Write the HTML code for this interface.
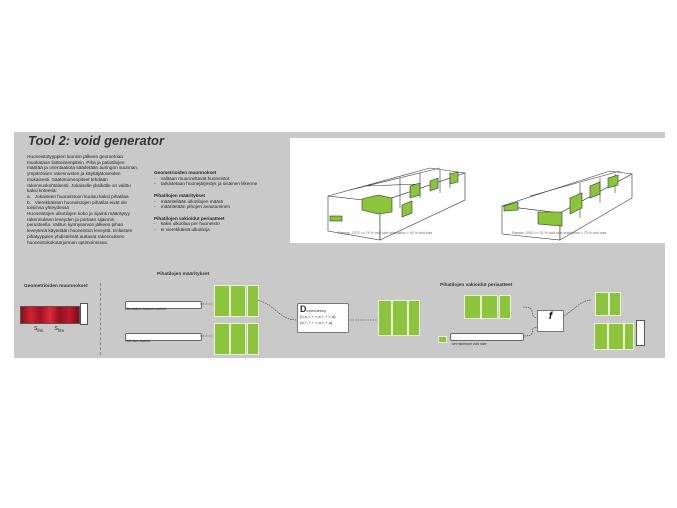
<!DOCTYPE html><html><head><meta charset="utf-8"><style>
body{margin:0;width:677px;height:508px;background:#fff;position:relative;overflow:hidden;font-family:"Liberation Sans",sans-serif}
.a{position:absolute}
.t{font-size:4.7px;line-height:5.7px;color:#222}
.g{background:#8cc43c;border:1px solid #e8f2d8}
.h{font-size:4.8px;font-weight:bold;color:#333}
.sl{background:#fff;border:1px solid #666;height:6px;border-radius:2px}
</style></head><body>
<div class="a" style="left:14px;top:132px;width:651px;height:226px;background:#c9c9c9"></div>
<div class="a" style="left:28px;top:133px;font-size:13px;font-weight:bold;font-style:italic;color:#333">Tool 2: void generator</div>
<div class="a t" style="left:27px;top:154px;width:112px">Huoneistotyyppien luonnin jälkeen geometriaa muokataan lisätoimenpitein. Piha ja patiotilojen määrää ja orientaatiota säädetään auringon suunnan, ympäröivien rakennusten ja käyttäjätoiveiden mukaisesti. Säätötoimenpiteet tehdään rakennuskohtaisesti. Jokaiselle yksikölle on valittu kaksi kriteeriä:<br>a. &nbsp; Jokaiseen huoneistoon kuuluu kaksi pihatilaa<br>b. &nbsp; Vierekkäisten huoneistojen pihatilat eivät ole toisiinsa yhteydessä<br>Huoneistojen ulkotilojen koko ja sijainti määräytyy rakennuksen leveyden ja portaan sijainnin perusteella. Valitun kynnysarvon jälkeen pihan leveytenä käytetään huoneiston leveyttä. Erilaisten pihatyyppien yhdistelmät auttavat rakennuksen huoneistokokotarjonnan optimoinnissa.</div>
<div class="a t" style="left:154px;top:170px;width:132px"><b>Geometrioiden muunnokset</b><br>- &nbsp;&nbsp; valitaan muunneltavat huoneistot<br>- &nbsp;&nbsp; tarkistetaan huonejärjestys ja sisäinen liikenne<br><br><b>Pihatilojen määritykset</b><br>- &nbsp;&nbsp; määritellään ulkotilojen määrä<br>- &nbsp;&nbsp; määritetään pihojen avautuminen<br><br><b>Pihatilojen vakioidut periaatteet</b><br>- &nbsp;&nbsp; kaksi ulkotilaa per huoneisto<br>- &nbsp;&nbsp; ei vierekkäisiä ulkotiloja</div>
<div class="a" style="left:290px;top:138px;width:375px;height:105px;background:#fff"></div>
<svg class="a" style="left:290px;top:138px" width="375" height="105">
<g stroke="#333" stroke-width="0.6" fill="#fff">
<polygon points="38,58 140,30 175,35 90,64"/>
<polygon points="38,58 90,64 90,102 38,93"/>
<polygon points="90,64 175,35 175,62 90,102"/>
<path d="M60,52 L150,30 M75,48 L130,46 M110,40 V70 M130,35 V60 M150,32 V55 M160,34 V50" fill="none"/>
<polygon points="72,61 88,57 102,60 102,74 88,76 72,72" fill="#8cc43c"/>
<rect x="40" y="78" width="12" height="5" fill="#8cc43c"/>
<polygon points="112,67 122,63 122,75 112,79" fill="#8cc43c"/>
<polygon points="120,48 130,45 130,57 120,60" fill="#8cc43c"/>
<polygon points="140,43 148,40 148,50 140,53" fill="#8cc43c"/>
<polygon points="160,36 168,34 168,44 160,46" fill="#8cc43c"/>
<polygon points="212,68 320,33 342,36 270,75"/>
<polygon points="212,68 270,75 270,102 212,96"/>
<polygon points="270,75 342,36 342,60 270,102"/>
<path d="M240,58 L330,33 M290,45 V80 M310,40 V65 M325,36 V55" fill="none"/>
<polygon points="214,68 228,64 228,72 214,73" fill="#8cc43c"/>
<polygon points="248,74 272,74 272,88 248,86" fill="#8cc43c"/>
<polygon points="280,60 292,55 292,70 280,76" fill="#8cc43c"/>
<polygon points="300,48 310,44 310,56 300,60" fill="#8cc43c"/>
<polygon points="318,40 328,37 328,47 318,50" fill="#8cc43c"/>
</g>
<text x="48" y="96" font-size="3.5" fill="#666">Sample_1374 &gt;&gt; 74 % void side orientation &gt; 40 % void size</text>
<text x="222" y="96" font-size="3.5" fill="#666">Sample_2013 &gt;&gt; 31 % void side orientation &gt; 73 % void size</text>
</svg>
<div class="a" style="left:100px;top:283px;height:72px;border-left:1px dashed #888"></div>
<div class="a h" style="left:24px;top:284px">Geometrioiden muunnokset</div>
<div class="a" style="left:20px;top:306px;width:58px;height:16px;background:linear-gradient(90deg,#8a0f1a,#d02030,#a01020,#e02a3a,#901020,#c01a2a,#7a0a14);border:1px solid #555"></div>
<div class="a" style="left:80px;top:303px;width:6px;height:20px;background:#fff;border:1px solid #555"></div>
<div class="a t" style="left:34px;top:327px;font-size:5px">S<sub>frm</sub> &nbsp;&nbsp;&nbsp;&nbsp;&nbsp;&nbsp; S<sub>frm</sub></div>
<div class="a h" style="left:157px;top:272px">Pihatilojen määritykset</div>
<div class="a sl" style="left:125px;top:301px;width:75px"></div>
<div class="a t" style="left:125px;top:307px;font-size:3.5px">orientation balance control</div>
<div class="a sl" style="left:125px;top:333px;width:75px"></div>
<div class="a t" style="left:125px;top:339px;font-size:3.5px">void size control</div>
<div class="a g" style="left:214px;top:285px;width:14px;height:30px"></div><div class="a g" style="left:230px;top:285px;width:14px;height:30px"></div><div class="a g" style="left:247px;top:285px;width:10px;height:30px"></div>
<div class="a g" style="left:214px;top:323px;width:14px;height:30px"></div><div class="a g" style="left:230px;top:323px;width:14px;height:30px"></div><div class="a g" style="left:247px;top:323px;width:10px;height:30px"></div>
<svg class="a" style="left:0;top:0" width="677" height="508"><g stroke="#333" stroke-width="0.6" fill="none" stroke-dasharray="1.5,1">
<path d="M200,304H213M200,336H213M258,300C275,305 280,320 297,320M350,320H377"/>
<path d="M523,307C540,307 525,318 540,318M524,336C540,336 525,327 540,327M562,317C575,310 580,300 592,300"/>
</g></svg>
<div class="a" style="left:297px;top:303px;width:52px;height:30px;background:#fff;border:1px solid #777;border-radius:2px;font-size:4px;color:#333;line-height:6px;padding:2px;box-sizing:border-box"><b style="font-size:9px">D</b>ependency<br>{0,a,+,+,+,a,+,+,+,a}<br>{a,+,+,+,+,a,+,+,a}</div>
<div class="a g" style="left:378px;top:300px;width:12px;height:34px"></div><div class="a g" style="left:392px;top:300px;width:14px;height:34px"></div><div class="a g" style="left:408px;top:300px;width:10px;height:34px"></div>
<div class="a h" style="left:440px;top:283px">Pihatilojen vakioidut periaatteet</div>
<div class="a g" style="left:464px;top:295px;width:15px;height:22px"></div><div class="a g" style="left:481px;top:295px;width:15px;height:22px"></div><div class="a g" style="left:499px;top:295px;width:10px;height:22px"></div>
<div class="a g" style="left:438px;top:336px;width:7px;height:5px"></div>
<div class="a sl" style="left:450px;top:333px;width:72px"></div>
<div class="a t" style="left:452px;top:342px;font-size:3.5px">set minimum void size</div>
<div class="a" style="left:537px;top:310px;width:25px;height:20px;background:#fff;border:1px solid #777;font-size:10px;font-weight:bold;font-style:italic;text-align:center">f</div>
<div class="a g" style="left:595px;top:292px;width:12px;height:22px"></div><div class="a g" style="left:609px;top:292px;width:10px;height:22px"></div>
<div class="a g" style="left:594px;top:323px;width:12px;height:25px"></div><div class="a g" style="left:608px;top:323px;width:14px;height:25px"></div><div class="a g" style="left:624px;top:323px;width:8px;height:25px"></div>
<div class="a" style="left:636px;top:320px;width:7px;height:24px;background:#fff;border:1px solid #555"></div>
</body></html>
